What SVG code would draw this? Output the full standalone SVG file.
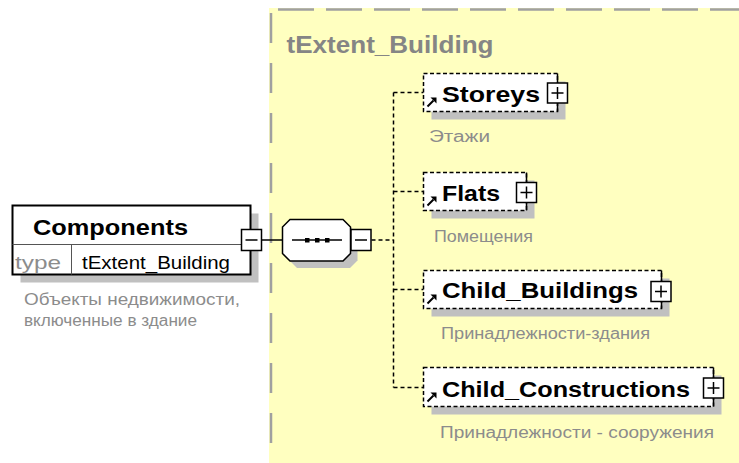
<svg xmlns="http://www.w3.org/2000/svg" width="739" height="463" viewBox="0 0 739 463">
<style>
.name{font-family:"Liberation Sans",Arial,sans-serif;font-weight:bold;font-size:22px;fill:#000}
.desc{font-family:"Liberation Sans",Arial,sans-serif;font-size:16px;fill:#8c8c8c}
.shadow{fill:#c0c0c0;stroke:none}
.ebox{fill:#fff;stroke:#000;stroke-width:1.5;stroke-dasharray:4 2.5}
.pm{fill:#fff;stroke:#000;stroke-width:1.5}
.sign{stroke:#000;stroke-width:1.5;fill:none}
.conn{stroke:#000;stroke-width:1.5;fill:none;stroke-dasharray:4 3}
.solid{stroke:#000;stroke-width:1.5;fill:none}
</style>
<defs>
<g id="arrow"><line x1="0" y1="0" x2="6" y2="-6" stroke="#000" stroke-width="2"/><polygon points="3,-9 9,-9 9,-3" fill="#000"/></g>
<g id="plus"><rect class="pm" x="-10" y="-10" width="20" height="20"/><path class="sign" d="M-6,0H6M0,-6V6"/></g>
<g id="minus"><rect class="pm" x="-10" y="-10.5" width="20" height="21"/><path class="sign" d="M-6,0H6"/></g>
</defs>
<rect width="739" height="463" fill="#fff"/>
<g id="type-area">
<rect x="269" y="8" width="470" height="455" fill="#ffffc0"/>
<line x1="278" y1="9.5" x2="739" y2="9.5" stroke="#a0a0a0" stroke-width="2.5" stroke-dasharray="36 12"/>
<line x1="271" y1="13" x2="271" y2="463" stroke="#a0a0a0" stroke-width="2.5" stroke-dasharray="30 20"/>
<text x="286.5" y="53" textLength="207" lengthAdjust="spacingAndGlyphs" style="font-family:'Liberation Sans',Arial,sans-serif;font-weight:bold;font-size:23px;fill:#858585">tExtent_Building</text>
</g>
<g id="connectors">
<line class="solid" x1="261.5" y1="240" x2="282.5" y2="240"/>
<line class="conn" x1="371.5" y1="240" x2="393.5" y2="240"/>
<line class="conn" x1="393.5" y1="92.5" x2="393.5" y2="387.5"/>
<line class="conn" x1="393.5" y1="92.5" x2="423.5" y2="92.5"/>
<line class="conn" x1="393.5" y1="191.5" x2="423.5" y2="191.5"/>
<line class="conn" x1="393.5" y1="289.5" x2="423.5" y2="289.5"/>
<line class="conn" x1="393.5" y1="387.5" x2="423.5" y2="387.5"/>
</g>
<g id="Components">
<rect class="shadow" x="20.5" y="213.5" width="238" height="69"/>
<rect x="12.5" y="205.5" width="238" height="69" fill="#fff" stroke="#000" stroke-width="2"/>
<line x1="12.5" y1="244.5" x2="250.5" y2="244.5" stroke="#555" stroke-width="1"/>
<line x1="71.5" y1="244.5" x2="71.5" y2="274.5" stroke="#555" stroke-width="1"/>
<text class="name" x="33" y="234.5" textLength="155" lengthAdjust="spacingAndGlyphs">Components</text>
<text x="15" y="269" textLength="46" lengthAdjust="spacingAndGlyphs" style="font-family:'Liberation Sans',Arial,sans-serif;font-size:19px;fill:#8c8c8c">type</text>
<text x="82" y="269" textLength="148" lengthAdjust="spacingAndGlyphs" style="font-family:'Liberation Sans',Arial,sans-serif;font-size:19px;fill:#000">tExtent_Building</text>
<use href="#minus" x="251.5" y="240"/>
<text class="desc" x="24" y="305" textLength="216" lengthAdjust="spacingAndGlyphs">Объекты недвижимости,</text>
<text class="desc" x="24" y="326" textLength="173" lengthAdjust="spacingAndGlyphs">включенные в здание</text>
</g>
<g id="sequence">
<polygon class="shadow" points="297,226.5 350,226.5 357.5,234 357.5,260.5 350,268 297,268 289.5,260.5 289.5,234"/>
<polygon points="290,219.5 343,219.5 350.5,227 350.5,253.5 343,261 290,261 282.5,253.5 282.5,227" fill="#fff" stroke="#000" stroke-width="1.5"/>
<line x1="292" y1="240" x2="342" y2="240" stroke="#000" stroke-width="1.5"/>
<rect x="305" y="238" width="4.5" height="4.5" fill="#000"/>
<rect x="315" y="238" width="4.5" height="4.5" fill="#000"/>
<rect x="325" y="238" width="4.5" height="4.5" fill="#000"/>
<use href="#minus" x="361" y="240"/>
</g>
<g id="Storeys">
<rect class="shadow" x="431.5" y="81.5" width="134" height="38"/>
<rect class="ebox" x="423.5" y="73.5" width="134" height="38"/>
<line class="solid" x1="557.5" y1="73.5" x2="557.5" y2="111.5"/>
<text class="name" x="442" y="101.5" textLength="98" lengthAdjust="spacingAndGlyphs">Storeys</text>
<use href="#arrow" x="427.5" y="106.5"/>
<use href="#plus" x="557.5" y="93"/>
<text class="desc" x="429" y="141.5" textLength="61" lengthAdjust="spacingAndGlyphs">Этажи</text>
</g>
<g id="Flats">
<rect class="shadow" x="431.5" y="180.5" width="103" height="38"/>
<rect class="ebox" x="423.5" y="172.5" width="103" height="38"/>
<line class="solid" x1="526.5" y1="172.5" x2="526.5" y2="210.5"/>
<text class="name" x="442" y="200.5" textLength="58" lengthAdjust="spacingAndGlyphs">Flats</text>
<use href="#arrow" x="427.5" y="205.5"/>
<use href="#plus" x="526.5" y="192.5"/>
<text class="desc" x="434" y="241.5" textLength="99" lengthAdjust="spacingAndGlyphs">Помещения</text>
</g>
<g id="Child_Buildings">
<rect class="shadow" x="431.5" y="278.5" width="238" height="38"/>
<rect class="ebox" x="423.5" y="270.5" width="238" height="38"/>
<line class="solid" x1="661.5" y1="270.5" x2="661.5" y2="308.5"/>
<text class="name" x="442" y="297.5" textLength="196" lengthAdjust="spacingAndGlyphs">Child_Buildings</text>
<use href="#arrow" x="427.5" y="303.5"/>
<use href="#plus" x="661" y="291.5"/>
<text class="desc" x="441" y="338.5" textLength="209" lengthAdjust="spacingAndGlyphs">Принадлежности-здания</text>
</g>
<g id="Child_Constructions">
<rect class="shadow" x="431.5" y="375.5" width="290" height="39"/>
<rect class="ebox" x="423.5" y="367.5" width="290" height="39"/>
<line class="solid" x1="713.5" y1="367.5" x2="713.5" y2="406.5"/>
<text class="name" x="442" y="396.5" textLength="248" lengthAdjust="spacingAndGlyphs">Child_Constructions</text>
<use href="#arrow" x="427.5" y="401.5"/>
<use href="#plus" x="713.5" y="388"/>
<text class="desc" x="440" y="438" textLength="274" lengthAdjust="spacingAndGlyphs">Принадлежности - сооружения</text>
</g>
</svg>
